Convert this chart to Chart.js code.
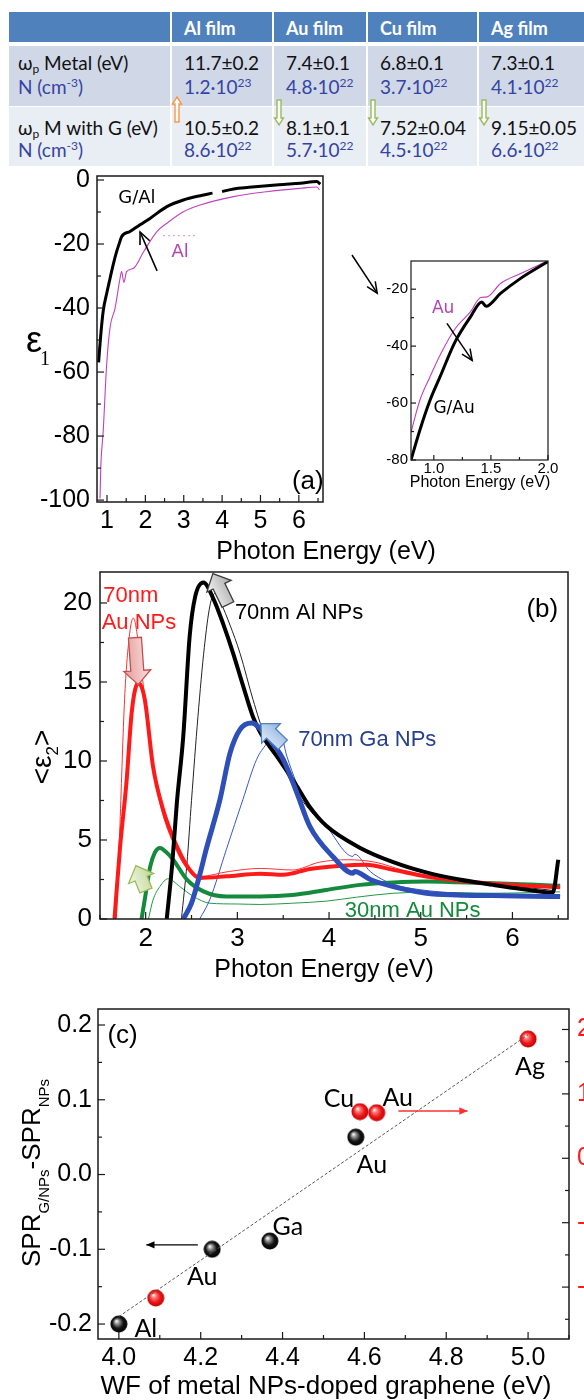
<!DOCTYPE html>
<html>
<head>
<meta charset="utf-8">
<script src="https://cdn.jsdelivr.net/npm/chart.js@4.4.1/dist/chart.umd.min.js"></script>
<style>
  body { margin: 0; background: #fff; width: 584px; height: 1400px; position: relative; overflow: hidden;
         font-family: Lato, 'Open Sans', sans-serif; }
  canvas { position: absolute; }
  .cell { position: absolute; }
  .txt { position: absolute; white-space: nowrap; font-size: 19px; line-height: 24px; color: #111; }
  .hdr { color: #fff; font-weight: bold; font-size: 18px; }
  .blue { color: #3444a4; }
  .txt sup { font-size: 12px; vertical-align: 7px; line-height: 0; }
  .txt sub { font-size: 12px; vertical-align: -3px; line-height: 0; }
</style>
</head>
<body>
<div id="table"></div>
<canvas id="chartA" width="584" height="405" style="left:0;top:165px"></canvas>
<canvas id="inset" width="244" height="260" style="left:340px;top:240px"></canvas>
<canvas id="chartB" width="584" height="420" style="left:0;top:570px"></canvas>
<canvas id="chartC" width="584" height="405" style="left:0;top:995px"></canvas>
<script>
// ---- table values
const films = ['Al film', 'Au film', 'Cu film', 'Ag film'];
const wpMetal = ['11.7±0.2', '7.4±0.1', '6.8±0.1', '7.3±0.1'];
const nMetal = [['1.2', '23'], ['4.8', '22'], ['3.7', '22'], ['4.1', '22']];
const wpGraphene = ['10.5±0.2', '8.1±0.1', '7.52±0.04', '9.15±0.05'];
const nGraphene = [['8.6', '22'], ['5.7', '22'], ['4.5', '22'], ['6.6', '22']];
const shiftDir = ['up', 'down', 'down', 'down'];

// ---- (a) eps1 of Al films
const galE = [0.78, 0.84, 0.9, 1.0, 1.08, 1.16, 1.25, 1.32, 1.38, 1.6, 1.86, 2.12, 2.56, 2.99, 3.43, 3.75, 3.8, 4.0, 4.3, 4.7, 5.17, 5.6, 6.04, 6.47, 6.56];
const galEps = [-57, -48, -41, -35, -30.7, -26.5, -22.4, -19.8, -17.7, -16.1, -14, -12, -8.3, -6.25, -4.9, -4.1, null, -3.6, -2.8, -2.3, -1.8, -1.4, -1.0, -0.5, -1.3];
const alE = [0.817, 0.84, 0.9, 0.99, 1.08, 1.21, 1.34, 1.38, 1.44, 1.51, 1.69, 1.95, 2.3, 2.56, 2.99, 3.43, 4.3, 5.17, 6.04, 6.47, 6.54];
const alEps = [-99.5, -89, -78.6, -57.8, -46, -40, -30.7, -28.6, -32, -28.6, -27.6, -22.5, -16.1, -13.5, -9.9, -7.8, -5.2, -3.65, -2.6, -2.2, -3.1];
const alDotE = [2.46, 3.35];
const alDotEps = [-17.4, -17.4];
const aXTicks = [1, 2, 3, 4, 5, 6];
const aYTicks = [0, -20, -40, -60, -80, -100];

// ---- (a) inset, Au films
const gauE = [0.8, 0.876, 0.965, 1.053, 1.186, 1.32, 1.42, 1.457, 1.584, 1.76, 2.0];
const gauEps = [-80, -69.7, -59.2, -50.9, -38.5, -29.8, -24.5, -26, -21.5, -16.2, -10.3];
const auE = [0.8, 0.876, 0.965, 1.053, 1.186, 1.32, 1.41, 1.466, 1.584, 1.76, 2.0];
const auEps = [-70.3, -59.2, -50.9, -43.3, -33.9, -28, -22.9, -22.7, -18, -14.5, -10];
const insetXTicks = [1.0, 1.5, 2.0];
const insetYTicks = [-20, -40, -60, -80];

// ---- (b) <eps2> of nanoparticles (thick: with graphene, thin: bare)
const rE = [1.66, 1.72, 1.79, 1.85, 1.92, 1.99, 2.08, 2.19, 2.34, 2.48, 2.59, 2.88, 3.25, 3.5, 3.79, 4.1, 4.4, 4.70, 5.06, 5.61, 6.0, 6.52];
const rEps = [0, 4.5, 8.6, 13.2, 14.95, 13.9, 9.66, 6.92, 4.6, 3.12, 2.6, 2.7, 2.87, 2.8, 3.16, 3.35, 3.43, 3.11, 2.69, 2.31, 2.15, 2.01];
const trE = [1.68, 1.72, 1.77, 1.82, 1.865, 1.92, 1.97, 2.05, 2.15, 2.3, 2.45, 2.6, 2.9, 3.25, 3.6, 3.9, 4.2, 4.5, 4.8, 5.2, 5.7, 6.2, 6.52];
const trEps = [0, 6, 13.9, 17.8, 19.05, 17.5, 15, 11, 7.5, 4.8, 3.2, 2.7, 3.0, 3.2, 3.1, 3.6, 3.75, 3.6, 3.1, 2.6, 2.3, 2.1, 2.0];
const bE = [2.23, 2.29, 2.34, 2.41, 2.48, 2.54, 2.63, 2.74, 2.85, 2.955, 3.06, 3.17, 3.25, 3.43, 3.65, 3.79, 3.97, 4.34, 4.70, 5.06, 5.42, 5.79, 6.1, 6.44, 6.5];
const bEps = [0, 3.5, 7.34, 11.56, 17.9, 20.4, 21.3, 20.25, 18.6, 16.8, 14.8, 12.8, 11.8, 10.3, 8.4, 7.1, 5.9, 4.5, 3.6, 2.95, 2.5, 2.16, 1.9, 1.67, 3.75];
const tbE = [2.39, 2.45, 2.5, 2.57, 2.64, 2.7, 2.755, 2.82, 2.92, 3.03, 3.17, 3.3, 3.45, 3.65, 3.9, 4.3, 4.7, 5.1, 5.5, 6.0, 6.45];
const tbEps = [0, 3.5, 7.5, 12.8, 17.2, 19.8, 20.6, 20.0, 18.6, 16.8, 13.9, 11.6, 10.2, 8.0, 6.2, 4.6, 3.6, 2.9, 2.45, 2.1, 1.8];
const blE = [2.41, 2.5, 2.59, 2.66, 2.81, 2.92, 3.03, 3.155, 3.32, 3.5, 3.65, 3.79, 4.04, 4.26, 4.28, 4.45, 4.70, 5.06, 5.4, 5.79, 6.2, 6.52];
const blEps = [0, 1.0, 2.8, 4.4, 7.55, 10.5, 12.0, 12.4, 11.56, 10.1, 7.97, 5.86, 3.96, 2.9, 3.0, 2.5, 2.05, 1.63, 1.52, 1.48, 1.44, 1.42];
const tblE = [2.59, 2.7, 2.88, 3.06, 3.21, 3.32, 3.42, 3.48, 3.54, 3.75, 3.97, 4.26, 4.28, 4.45, 4.70, 5.0, 5.42, 6.0, 6.52];
const tblEps = [0, 1.23, 4.4, 7.55, 10.1, 11.1, 11.8, 11.6, 10.3, 7.3, 5.87, 3.96, 4.1, 3.0, 2.2, 1.85, 1.63, 1.52, 1.48];
const gE = [1.955, 1.99, 2.05, 2.1, 2.156, 2.22, 2.3, 2.45, 2.63, 2.88, 3.25, 3.6, 3.97, 4.34, 4.70, 5.06, 5.4, 5.79, 6.2, 6.52];
const gEps = [0, 1.23, 3.33, 4.2, 4.49, 4.25, 3.75, 2.49, 1.75, 1.43, 1.43, 1.52, 1.84, 2.16, 2.31, 2.37, 2.33, 2.27, 2.18, 2.1];
const tgE = [2.03, 2.08, 2.156, 2.246, 2.37, 2.52, 2.7, 3.0, 3.25, 3.6, 3.97, 4.3, 4.7, 5.06, 5.4, 5.79, 6.2, 6.52];
const tgEps = [0, 1.2, 2.06, 2.55, 2.06, 1.43, 1.0, 0.95, 0.92, 1.0, 1.13, 1.38, 1.63, 1.69, 1.67, 1.63, 1.67, 1.72];
const bXTicks = [2, 3, 4, 5, 6];
const bYTicks = [0, 5, 10, 15, 20];

// ---- (c) SPR shift vs work function
const wfBlack = [4.0, 4.228, 4.369, 4.579];
const sprBlack = [-0.2, -0.1, -0.089, 0.05];
const blackNames = ['Al', 'Au', 'Ga', 'Au'];
const wfRed = [4.09, 4.589, 4.63, 5.0];
const sprRed = [-2.17, 0.724, 0.708, 1.852];
const redNames = ['', 'Cu', 'Au', 'Ag'];
const fitWf = [4.0, 5.0];
const fitSpr = [-0.19, 0.187];
const cXTicks = [4.0, 4.2, 4.4, 4.6, 4.8, 5.0];
const cYTicks = [-0.2, -0.1, 0, 0.1, 0.2];
const cY2Ticks = [-2, -1, 0, 1, 2];

// ---------------- table
const tbl = document.getElementById('table');
const colX = [9, 171, 273, 367, 478, 590];
function box(x0, x1, y0, y1, bg) {
  const d = document.createElement('div');
  d.className = 'cell';
  d.style.cssText = `left:${x0}px;top:${y0}px;width:${x1 - x0}px;height:${y1 - y0}px;background:${bg}`;
  tbl.appendChild(d);
}
function txt(html, x, cy, cls) {
  const d = document.createElement('div');
  d.className = 'txt ' + (cls || '');
  d.style.left = x + 'px';
  d.style.top = (cy - 12) + 'px';
  d.innerHTML = html;
  tbl.appendChild(d);
}
for (let i = 0; i < 5; i++) {
  const x0 = colX[i] + (i ? 1 : 0), x1 = colX[i + 1] - 1;
  box(x0, x1, 12, 42, '#4f81bd');
  box(x0, x1, 46, 106, '#d0d8e8');
  box(x0, x1, 107, 166, '#e9edf4');
}
txt('ω<sub>p</sub> Metal (eV)', 18, 63);
txt('N (cm<sup>-3</sup>)', 18, 87, 'blue');
txt('ω<sub>p</sub> M with G (eV)', 18, 128);
txt('N (cm<sup>-3</sup>)', 18, 150, 'blue');
films.forEach((f, i) => {
  const x = colX[i + 1] + 13;
  txt(f, x, 28, 'hdr');
  txt(wpMetal[i], x, 63);
  txt(`${nMetal[i][0]}·10<sup>${nMetal[i][1]}</sup>`, x, 87, 'blue');
  txt(wpGraphene[i], x, 128);
  txt(`${nGraphene[i][0]}·10<sup>${nGraphene[i][1]}</sup>`, x, 150, 'blue');
  // hollow arrow showing the shift of the plasma frequency
  const up = shiftDir[i] === 'up';
  const col = up ? '#f79646' : '#9bbb59';
  const s = document.createElementNS('http://www.w3.org/2000/svg', 'svg');
  s.setAttribute('width', 12); s.setAttribute('height', 28);
  s.style.cssText = `position:absolute;left:${colX[i + 1]}px;top:${up ? 96 : 99}px`;
  const poly = up ? '6,1 10.5,8 8,8 8,26 4,26 4,8 1.5,8' : '4,1 8,1 8,19 10.5,19 6,26 1.5,19 4,19';
  s.innerHTML = `<polygon points="${poly}" fill="#fff" stroke="${col}" stroke-width="1.4"/>`;
  tbl.appendChild(s);
});

// ---------------- chart helpers
Chart.defaults.font.family = "'Liberation Sans', Arial, sans-serif";
Chart.defaults.color = '#000';
Chart.defaults.animation = false;

const pts = (xs, ys) => xs.map((x, i) => ({ x, y: ys[i] }));
function line(xs, ys, color, width, extra) {
  return Object.assign({ data: pts(xs, ys), borderColor: color, borderWidth: width, pointRadius: 0,
    fill: false, cubicInterpolationMode: 'monotone', spanGaps: false }, extra || {});
}
function minors(from, to, step) {
  const out = [];
  for (let v = from; v <= to + 1e-9; v += step) out.push(+v.toFixed(4));
  return out;
}
function axis(min, max, ticks, fmt, size, pad, fit, extra) {
  return Object.assign({
    type: 'linear', min, max,
    grid: { display: false, drawTicks: false },
    border: { display: false },
    ticks: { font: { size }, padding: pad, color: '#000', autoSkip: false, maxRotation: 0, callback: v => fmt(v) },
    afterBuildTicks: s => { s.ticks = ticks.map(v => ({ value: v })); },
    afterFit: s => { fit(s); s.paddingLeft = s.paddingRight = s.paddingTop = s.paddingBottom = 0; }
  }, extra || {});
}

function blockArrow(ctx, x1, y1, x2, y2, b) {
  const ang = Math.atan2(y2 - y1, x2 - x1), len = Math.hypot(x2 - x1, y2 - y1);
  const hw = b.hw || 27, hl = b.hl || 14, sw = b.sw || 13;
  ctx.save();
  ctx.translate(x1, y1); ctx.rotate(ang);
  const g = ctx.createLinearGradient(0, -hw / 2, 0, hw / 2);
  g.addColorStop(0, b.c1); g.addColorStop(1, b.c2);
  ctx.beginPath();
  ctx.moveTo(0, -sw / 2); ctx.lineTo(len - hl, -sw / 2); ctx.lineTo(len - hl, -hw / 2); ctx.lineTo(len, 0);
  ctx.lineTo(len - hl, hw / 2); ctx.lineTo(len - hl, sw / 2); ctx.lineTo(0, sw / 2); ctx.closePath();
  ctx.fillStyle = g; ctx.fill();
  ctx.strokeStyle = b.stroke; ctx.lineWidth = 1.3; ctx.stroke();
  ctx.restore();
}
function lineArrow(ctx, x1, y1, x2, y2, a) {
  const ang = Math.atan2(y2 - y1, x2 - x1), h = a.head || 12;
  ctx.save();
  ctx.strokeStyle = a.color || '#000'; ctx.fillStyle = a.color || '#000';
  ctx.lineWidth = a.width || 1.5;
  ctx.beginPath(); ctx.moveTo(x1, y1); ctx.lineTo(x2, y2); ctx.stroke();
  const p1 = [x2 - h * Math.cos(ang - 0.42), y2 - h * Math.sin(ang - 0.42)];
  const p2 = [x2 - h * Math.cos(ang + 0.42), y2 - h * Math.sin(ang + 0.42)];
  ctx.beginPath();
  if (a.filled) {
    ctx.moveTo(x2, y2); ctx.lineTo(p1[0], p1[1]); ctx.lineTo(p2[0], p2[1]); ctx.closePath(); ctx.fill();
  } else {
    ctx.moveTo(p1[0], p1[1]); ctx.lineTo(x2, y2); ctx.lineTo(p2[0], p2[1]); ctx.stroke();
  }
  ctx.restore();
}

// frame, inward ticks and annotations, all placed through the chart scales
const marks = {
  id: 'marks',
  afterDatasetsDraw(chart, args, o) {
    const { ctx, chartArea: a, scales } = chart;
    const px = (v, id) => scales[id || 'x'].getPixelForValue(v);
    const py = (v, id) => scales[id || 'y'].getPixelForValue(v);
    ctx.save();
    ctx.strokeStyle = '#1a1a1a'; ctx.lineWidth = o.frame || 1.5;
    ctx.strokeRect(a.left, a.top, a.right - a.left, a.bottom - a.top);
    (o.ticks || []).forEach(t => {
      const s = scales[t.axis];
      const draw = (v, len) => {
        const p = s.getPixelForValue(v);
        ctx.beginPath();
        if (t.side === 'bottom') { ctx.moveTo(p, a.bottom); ctx.lineTo(p, a.bottom - len); }
        else if (t.side === 'left') { ctx.moveTo(a.left, p); ctx.lineTo(a.left + len, p); }
        else { ctx.moveTo(a.right, p); ctx.lineTo(a.right - len, p); }
        ctx.stroke();
      };
      ctx.lineWidth = 1.2;
      t.minor.forEach(v => draw(v, t.minLen || 4));
      t.major.forEach(v => draw(v, t.majLen || 7));
    });
    (o.blocks || []).forEach(b => blockArrow(ctx, px(b.from[0]), py(b.from[1]), px(b.to[0]), py(b.to[1]), b));
    (o.arrows || []).forEach(r => lineArrow(ctx, px(r.from[0]), py(r.from[1], r.yAxis), px(r.to[0]), py(r.to[1], r.yAxis), r));
    (o.texts || []).forEach(t => {
      ctx.save();
      if (t.clip) { ctx.beginPath(); ctx.rect(a.left, a.top, a.right - a.left, a.bottom - a.top); ctx.clip(); }
      ctx.font = t.font; ctx.fillStyle = t.color || '#000';
      ctx.textAlign = t.align || 'center'; ctx.textBaseline = 'middle';
      ctx.fillText(t.t, px(t.at[0]), py(t.at[1], t.yAxis));
      ctx.restore();
    });
    ctx.restore();
  }
};
Chart.register(marks);

const noLegend = { legend: { display: false }, tooltip: { enabled: false } };
const lbl = (size, fam) => `${size}px ${fam || "'Liberation Sans', Arial"}`;
const dj = "'DejaVu Sans'";

// ---------------- (a) main
new Chart(document.getElementById('chartA'), {
  type: 'line',
  data: { datasets: [
    line(galE, galEps, '#000', 3),
    line(alE, alEps, '#c040c0', 1.1),
    line(alDotE, alDotEps, '#d890d8', 1, { borderDash: [2, 3] })
  ] },
  options: {
    responsive: false,
    layout: { autoPadding: false, padding: { top: 11, right: 261, left: 0, bottom: 0 } },
    scales: {
      x: axis(0.739, 6.63, aXTicks, v => String(v), 25, 4, s => { s.height = 68; }),
      y: axis(-100.6, 1.25, aYTicks, v => String(v), 25, 7, s => { s.width = 97; })
    },
    plugins: Object.assign({
      marks: {
        ticks: [
          { axis: 'x', side: 'bottom', major: aXTicks, minor: minors(1.5, 6.5, 1) },
          { axis: 'y', side: 'left', major: aYTicks, minor: minors(-90, -10, 20) }
        ],
        arrows: [{ from: [2.305, -28.4], to: [1.862, -16.25], width: 1.6, head: 13 }],
        texts: [
          { t: 'G/Al', at: [1.78, -5.6], font: lbl(18, dj) },
          { t: 'Al', at: [2.906, -22.5], font: lbl(18, dj), color: '#b444b4' },
          { t: '(a)', at: [6.235, -94.4], font: lbl(26) }
        ]
      }
    }, noLegend)
  },
  plugins: [{
    id: 'titlesA',
    afterDraw(chart) {
      const c = chart.ctx;
      c.save();
      c.fillStyle = '#000'; c.textAlign = 'center'; c.textBaseline = 'middle';
      c.font = lbl(25); c.fillText('Photon Energy (eV)', 326, 387);
      c.textAlign = 'left'; c.textBaseline = 'alphabetic';
      c.font = lbl(36); c.fillText('ε', 26, 187);
      c.font = "20px 'Liberation Serif'"; c.fillText('1', 40, 200);
      c.restore();
    }
  }]
});

// ---------------- (a) inset
new Chart(document.getElementById('inset'), {
  type: 'line',
  data: { datasets: [
    line(gauE, gauEps, '#000', 3),
    line(auE, auEps, '#c040c0', 1.1)
  ] },
  options: {
    responsive: false,
    layout: { autoPadding: false, padding: { top: 21, right: 36, left: 0, bottom: 0 } },
    scales: {
      x: axis(0.8, 2.0, insetXTicks, v => v.toFixed(1), 15, 0, s => { s.height = 40; }),
      y: axis(-80, -10.1, insetYTicks, v => String(v), 15, 3, s => { s.width = 71; })
    },
    plugins: Object.assign({
      marks: {
        frame: 1.2,
        ticks: [
          { axis: 'x', side: 'bottom', major: insetXTicks, minor: [1.25, 1.75], majLen: 5, minLen: 3 },
          { axis: 'y', side: 'left', major: insetYTicks, minor: [-70, -50, -30], majLen: 5, minLen: 3 }
        ],
        arrows: [
          { from: [1.115, -32], to: [1.336, -45], width: 1.5, head: 12 },
          { from: [0.283, -8.0], to: [0.504, -21.4], width: 1.5, head: 12 }
        ],
        texts: [
          { t: 'Au', at: [1.082, -26.8], font: lbl(17, dj), color: '#b444b4' },
          { t: 'G/Au', at: [1.177, -62], font: lbl(17, dj) }
        ]
      }
    }, noLegend)
  },
  plugins: [{
    id: 'titlesInset',
    afterDraw(chart) {
      const c = chart.ctx;
      c.save(); c.fillStyle = '#000'; c.textAlign = 'center'; c.textBaseline = 'middle';
      c.font = lbl(16); c.fillText('Photon Energy (eV)', 140, 243);
      c.restore();
    }
  }]
});

// ---------------- (b)
new Chart(document.getElementById('chartB'), {
  type: 'line',
  data: { datasets: [
    line(blE, blEps, '#2f4fb8', 5),
    line(bE, bEps, '#000', 4),
    line(rE, rEps, '#ff1a1a', 4),
    line(gE, gEps, '#138a3c', 4),
    line(tbE, tbEps, '#222', 1),
    line(trE, trEps, '#ff3030', 1),
    line(tblE, tblEps, '#3a56c8', 1),
    line(tgE, tgEps, '#1f9a45', 1)
  ] },
  options: {
    responsive: false,
    layout: { autoPadding: false, padding: { top: 2, right: 16, left: 0, bottom: 0 } },
    scales: {
      x: axis(1.502, 6.606, bXTicks, v => String(v), 26, 4, s => { s.height = 71; }),
      y: axis(0, 21.96, bYTicks, v => String(v), 26, 8, s => { s.width = 100; })
    },
    plugins: Object.assign({
      marks: {
        ticks: [
          { axis: 'x', side: 'bottom', major: bXTicks, minor: minors(1.5, 6.5, 1) },
          { axis: 'y', side: 'left', major: bYTicks, minor: minors(2.5, 17.5, 5) }
        ],
        blocks: [
          { from: [1.883, 17.8], to: [1.919, 14.83], c1: '#fbe0e0', c2: '#e39a98', stroke: '#c0504d' },
          { from: [2.897, 19.9], to: [2.733, 21.86], c1: '#f6f6f6', c2: '#a8a8a8', stroke: '#3c3c3c' },
          { from: [3.496, 11.03], to: [3.257, 12.36], c1: '#e6eef8', c2: '#8db3e2', stroke: '#4f81bd' },
          { from: [2.003, 1.8], to: [1.894, 3.38], c1: '#f0f6e2', c2: '#c3d69b', stroke: '#9bbb59' }
        ],
        texts: [
          { t: '70nm', at: [1.538, 20.42], font: lbl(22), color: '#ff1a1a', align: 'left' },
          { t: 'Au NPs', at: [1.52, 18.75], font: lbl(22), color: '#ff1a1a', align: 'left' },
          { t: '70nm Al NPs', at: [2.973, 19.37], font: lbl(22), align: 'left' },
          { t: '70nm Ga NPs', at: [3.663, 11.35], font: lbl(22), color: '#27408b', align: 'left' },
          { t: '30nm Au NPs', at: [4.172, 0.48], font: lbl(22), color: '#138a3c', align: 'left', clip: true },
          { t: '(b)', at: [6.153, 19.58], font: lbl(26), align: 'left' }
        ]
      }
    }, noLegend)
  },
  plugins: [{
    id: 'titlesB',
    afterDraw(chart) {
      const c = chart.ctx;
      c.save(); c.fillStyle = '#000';
      c.textAlign = 'center'; c.textBaseline = 'middle';
      c.font = lbl(25); c.fillText('Photon Energy (eV)', 324, 400);
      c.translate(51, 187); c.rotate(-Math.PI / 2);
      c.textAlign = 'left'; c.textBaseline = 'alphabetic';
      c.font = lbl(28); const w1 = c.measureText('<ε').width, w3 = c.measureText('>').width;
      c.font = lbl(17); const w2 = c.measureText('2').width;
      let x = -(w1 + w2 + w3) / 2;
      c.font = lbl(28); c.fillText('<ε', x, 0); x += w1;
      c.font = lbl(17); c.fillText('2', x, 7); x += w2;
      c.font = lbl(28); c.fillText('>', x, 0);
      c.restore();
    }
  }]
});

// ---------------- (c)
function sphere(c0, c1, c2) {
  const cv = document.createElement('canvas');
  cv.width = cv.height = 18;
  const g = cv.getContext('2d');
  const gr = g.createRadialGradient(6.5, 6, 0.3, 9, 9, 9);
  gr.addColorStop(0, '#ffffff'); gr.addColorStop(0.22, c0); gr.addColorStop(0.6, c1); gr.addColorStop(1, c2);
  g.fillStyle = gr; g.beginPath(); g.arc(9, 9, 8.5, 0, Math.PI * 2); g.fill();
  return cv;
}
const blackBall = sphere('#9a9a9a', '#151515', '#000');
const redBall = sphere('#ff8080', '#f01818', '#b80000');
const nameOffsets = { 1: [[27, 5], [-10, 28], [18, -14], [16, 28]], 2: [null, [-21, -13], [21, -15], [2, 28]] };

new Chart(document.getElementById('chartC'), {
  type: 'scatter',
  data: { datasets: [
    { data: pts(fitWf, fitSpr), showLine: true, borderColor: '#555', borderWidth: 1, borderDash: [3, 2], pointRadius: 0, yAxisID: 'y' },
    { data: pts(wfBlack, sprBlack), pointStyle: blackBall, yAxisID: 'y' },
    { data: pts(wfRed, sprRed), pointStyle: redBall, yAxisID: 'y2' }
  ] },
  options: {
    responsive: false,
    layout: { autoPadding: false, padding: { top: 14, right: 0, left: 0, bottom: 0 } },
    scales: {
      x: axis(3.949, 5.1, cXTicks, v => v.toFixed(1), 25, 4, s => { s.height = 61; }),
      y: axis(-0.22, 0.2214, cYTicks, v => v.toFixed(1), 25, 6, s => { s.width = 98; }),
      y2: axis(-2.806, 2.318, cY2Ticks, v => String(v), 25, 8, s => { s.width = 15; },
        { position: 'right', ticks: { font: { size: 25 }, padding: 8, color: '#ff1a1a', callback: v => String(v) } })
    },
    plugins: Object.assign({
      marks: {
        ticks: [
          { axis: 'x', side: 'bottom', major: cXTicks, minor: minors(4.1, 5.1, 0.2) },
          { axis: 'y', side: 'left', major: cYTicks, minor: [-0.15, -0.05, 0.05, 0.15] },
          { axis: 'y2', side: 'right', major: cY2Ticks, minor: [-2.5, -1.5, -0.5, 0.5, 1.5] }
        ],
        arrows: [
          { from: [4.193, -0.094], to: [4.067, -0.094], width: 1.2, head: 9, filled: true },
          { from: [4.683, 0.734], to: [4.852, 0.734], yAxis: 'y2', width: 1.3, head: 9, filled: true, color: '#ff3030' }
        ],
        texts: [{ t: '(c)', at: [4.009, 0.186], font: lbl(26) }]
      }
    }, noLegend)
  },
  plugins: [{
    id: 'titlesC',
    afterDraw(chart) {
      const c = chart.ctx;
      c.save(); c.fillStyle = '#000';
      // metal names beside each sphere
      c.font = "25px Lato, 'Open Sans'"; c.textAlign = 'center'; c.textBaseline = 'middle';
      [[1, blackNames], [2, redNames]].forEach(([di, names]) => {
        chart.getDatasetMeta(di).data.forEach((el, j) => {
          const off = nameOffsets[di][j];
          if (off && names[j]) c.fillText(names[j], el.x + off[0], el.y + off[1]);
        });
      });
      c.font = lbl(26); c.fillText('WF of metal NPs-doped graphene (eV)', 326, 392);
      c.translate(40, 178); c.rotate(-Math.PI / 2);
      c.textAlign = 'left'; c.textBaseline = 'alphabetic';
      const parts = [['SPR', 26, 0], ['G/NPs', 15, 9], ['-SPR', 26, 0], ['NPs', 15, 9]];
      let total = 0;
      parts.forEach(p => { c.font = lbl(p[1]); total += c.measureText(p[0]).width; });
      let x = -total / 2;
      parts.forEach(p => { c.font = lbl(p[1]); c.fillText(p[0], x, p[2]); x += c.measureText(p[0]).width; });
      c.restore();
    }
  }]
});
</script>
</body>
</html>
